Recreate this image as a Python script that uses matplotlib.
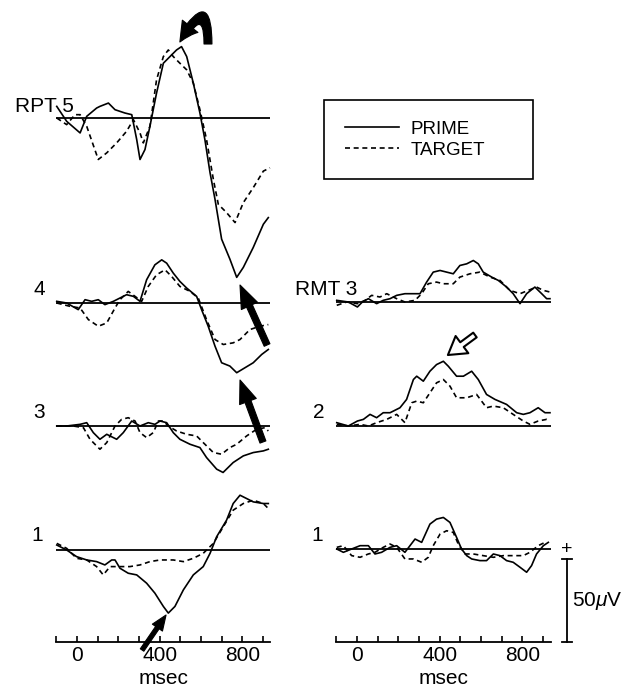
import numpy as np
import matplotlib.pyplot as plt
from matplotlib.lines import Line2D

plt.rcParams["font.family"] = ["Liberation Sans", "DejaVu Sans"]
plt.rcParams["mathtext.fontset"] = "custom"
plt.rcParams["mathtext.rm"] = "Liberation Sans"
plt.rcParams["mathtext.it"] = "Liberation Sans:italic"

# ---- ERP traces: time (msec) and amplitude (microvolts, + is up) ----
# RPT 5
t_rpt5_prime = [-98, -50, 15, 47, 95, 111, 152, 184, 232, 265, 289, 305, 329, 353, 385, 418,
                450, 482, 506, 531, 563, 595, 619, 644, 668, 700, 740, 773, 805, 853, 902, 926]
v_rpt5_prime = [7, -2, -9, 1, 6, 7, 9, 5, 3, 2, -13, -25, -19, -5, 15, 33,
                37, 41, 43, 37, 21, 3, -13, -33, -49, -73, -85, -96, -90, -78, -64, -60]
t_rpt5_target = [-98, -50, -10, 15, 47, 103, 144, 192, 240, 273, 305, 321, 353, 385, 418, 442,
                 466, 498, 531, 563, 595, 627, 660, 684, 724, 765, 805, 853, 902, 934]
v_rpt5_target = [0, -4, 2, 2, -5, -25, -21, -15, -8, -1, -9, -15, -5, 23, 37, 41,
                 37, 33, 29, 21, 5, -13, -37, -52, -57, -63, -51, -42, -32, -30]
# RPT 4
t_rpt4_prime = [-98, -50, 6, 39, 71, 103, 135, 176, 208, 240, 273, 305, 337, 377, 410, 434,
                466, 498, 531, 579, 603, 635, 668, 700, 740, 773, 813, 853, 894, 926]
v_rpt4_prime = [1, 0, -4, 2, 1, 2, -1, 1, 3, 5, 4, 1, 14, 23, 26, 24,
                18, 13, 9, 4, -4, -14, -26, -36, -38, -42, -39, -36, -31, -28]
t_rpt4_target = [-98, -34, 15, 55, 103, 144, 184, 208, 248, 281, 313, 345, 385, 426, 458, 498,
                 547, 587, 627, 668, 708, 756, 789, 837, 885, 926]
v_rpt4_target = [0, -2, -3, -10, -14, -12, -3, 2, 7, 4, 1, 10, 17, 20, 16, 10,
                 7, 3, -10, -22, -25, -24, -22, -16, -14, -13]
# RPT 3
t_rpt3_prime = [-98, -50, 15, 47, 79, 111, 144, 192, 224, 265, 305, 345, 377, 402, 434, 466,
                498, 547, 595, 627, 676, 707, 756, 805, 853, 902, 926]
v_rpt3_prime = [0, 0, 1, 2, -4, -8, -5, -8, -4, 3, 0, 2, 1, 3, 2, -4,
                -8, -11, -13, -19, -26, -28, -22, -18, -16, -15, -14]
t_rpt3_target = [-98, -18, 31, 63, 111, 144, 184, 216, 248, 281, 305, 337, 369, 394, 418, 442,
                 482, 531, 579, 611, 660, 700, 740, 773, 821, 869, 910, 926]
v_rpt3_target = [0, 0, -1, -8, -14, -10, 0, 4, 5, 3, -4, -7, -4, 3, 3, 0,
                 -3, -5, -6, -10, -16, -17, -13, -11, -6, -2, -1, -3]
# RPT 1
t_rpt1_prime = [-98, -50, -2, 47, 95, 135, 168, 184, 208, 248, 289, 337, 377, 418, 442, 474,
                515, 563, 611, 644, 676, 724, 756, 789, 821, 853, 902, 926]
v_rpt1_prime = [3, 0, -4, -6, -7, -9, -6, -6, -11, -14, -15, -20, -26, -34, -38, -34,
                -24, -15, -10, -2, 8, 18, 28, 33, 31, 29, 28, 28]
t_rpt1_target = [-98, -50, -2, 47, 95, 127, 160, 208, 256, 305, 353, 402, 466, 515, 563, 611,
                 660, 708, 756, 805, 853, 902, 926]
v_rpt1_target = [4, 1, -5, -6, -10, -15, -10, -10, -10, -9, -7, -6, -6, -7, -5, -2,
                 4, 14, 24, 28, 30, 28, 25]
# RMT 3
t_rmt3_prime = [-98, -42, 2, 26, 55, 95, 127, 160, 192, 232, 273, 305, 337, 369, 402, 434,
                466, 498, 531, 563, 587, 611, 652, 684, 724, 756, 789, 821, 861, 894, 918, 934]
v_rmt3_prime = [1, 0, -3, 0, 2, -1, 1, 2, 4, 5, 5, 5, 12, 18, 19, 18,
                17, 22, 23, 25, 23, 18, 15, 13, 9, 5, -1, 5, 9, 5, 2, 2]
t_rmt3_target = [-98, -50, 2, 39, 71, 111, 144, 192, 232, 281, 313, 345, 385, 418, 466, 498,
                 547, 595, 644, 692, 740, 789, 829, 869, 902, 934]
v_rmt3_target = [-2, 0, -1, 1, 4, 3, 5, 2, 0, 1, 5, 11, 12, 11, 11, 15,
                 17, 18, 15, 13, 7, 5, 7, 9, 7, 6]
# RMT 2
t_rmt2_prime = [-98, -42, 2, 31, 63, 95, 127, 160, 208, 240, 273, 289, 321, 353, 385, 418,
                442, 482, 515, 555, 587, 627, 668, 724, 773, 805, 837, 877, 910, 934]
v_rmt2_prime = [2, 0, 3, 4, 7, 5, 8, 8, 11, 16, 28, 30, 27, 33, 37, 39,
                36, 30, 30, 33, 28, 19, 16, 13, 8, 7, 8, 11, 8, 8]
t_rmt2_target = [-98, -42, 15, 55, 95, 144, 192, 232, 265, 289, 321, 353, 385, 418, 450, 482,
                 531, 579, 627, 660, 708, 756, 805, 837, 877, 918, 934]
v_rmt2_target = [1, 0, 1, 0, 2, 4, 7, 2, 14, 15, 14, 20, 26, 28, 24, 17,
                 17, 19, 11, 12, 11, 7, 3, 1, 3, 4, 3]
# RMT 1
t_rmt1_prime = [-98, -66, -26, 15, 55, 87, 119, 160, 192, 232, 281, 313, 353, 385, 418, 450,
                482, 506, 531, 555, 595, 627, 660, 692, 724, 756, 789, 821, 845, 869, 902, 926]
v_rmt1_prime = [0, -2, 0, 2, 2, -3, -2, 1, 2, -2, 6, 4, 15, 18, 19, 16,
                7, 0, -4, -6, -7, -7, -3, -4, -7, -8, -11, -14, -10, -3, 2, 4]
t_rmt1_target = [-98, -66, -26, 15, 55, 87, 127, 160, 192, 232, 273, 313, 345, 369, 402, 434,
                 466, 490, 523, 563, 611, 660, 708, 756, 805, 837, 877, 910]
v_rmt1_target = [1, 2, -4, -5, -3, -2, 1, 3, 1, -6, -6, -8, -5, 2, 9, 11,
                 10, 3, -3, -3, -4, -5, -4, -4, -4, -2, 2, 4]

tick_times = list(range(-100, 1000, 100))
tick_labels = ["" if t not in (0, 400, 800) else str(t) for t in tick_times]
scale_uv = 50

# ---- layout (pixels of a 633x688 canvas) ----
W, H = 633, 688
PX_MS = 0.2066   # px per msec
PX_UV = 1.66     # px per microvolt
AXIS_Y = 642     # pixel row of the time axis


def fx(x):
    return x / W


def fy(y):
    return 1 - y / H


fig = plt.figure(figsize=(W / 100, H / 100), dpi=100)


def make_axes(zero_px, tmax):
    left = zero_px - 100 * PX_MS
    width = (tmax + 100) * PX_MS
    ax = fig.add_axes([fx(left), fy(AXIS_Y), fx(width), AXIS_Y / H])
    ax.set_xlim(-100, tmax)
    ax.set_ylim(0, AXIS_Y / PX_UV)
    ax.patch.set_alpha(0)
    for s in ("left", "right", "top"):
        ax.spines[s].set_visible(False)
    ax.spines["bottom"].set_linewidth(1.3)
    ax.set_yticks([])
    ax.set_xticks(tick_times)
    ax.set_xticklabels(tick_labels, fontsize=15)
    ax.tick_params(axis="x", direction="in", length=4, width=1.2, pad=3)
    ax.set_xlabel("msec", fontsize=15, labelpad=3)
    return ax


def offset(y_px):
    return (AXIS_Y - y_px) / PX_UV


ax_l = make_axes(77, 935)
ax_r = make_axes(357, 940)

dash = (0, (3, 2.2))
lw = 1.2

left_traces = [
    (118, t_rpt5_prime, v_rpt5_prime, t_rpt5_target, v_rpt5_target),
    (303, t_rpt4_prime, v_rpt4_prime, t_rpt4_target, v_rpt4_target),
    (426, t_rpt3_prime, v_rpt3_prime, t_rpt3_target, v_rpt3_target),
    (550, t_rpt1_prime, v_rpt1_prime, t_rpt1_target, v_rpt1_target),
]
right_traces = [
    (302, t_rmt3_prime, v_rmt3_prime, t_rmt3_target, v_rmt3_target),
    (426, t_rmt2_prime, v_rmt2_prime, t_rmt2_target, v_rmt2_target),
    (549, t_rmt1_prime, v_rmt1_prime, t_rmt1_target, v_rmt1_target),
]

for ax, traces in ((ax_l, left_traces), (ax_r, right_traces)):
    for base, tp, vp, tt, vt in traces:
        off = offset(base)
        ax.axhline(off, color="black", lw=1.3)
        ax.plot(tp, np.array(vp) + off, color="black", lw=lw, clip_on=False)
        ax.plot(tt, np.array(vt) + off, color="black", lw=lw, ls=dash, clip_on=False)

# channel labels
lab = dict(fontsize=15, va="baseline", ha="left")
fig.text(fx(15), fy(112), "RPT 5", **lab)
fig.text(fx(33), fy(295), "4", **lab)
fig.text(fx(33), fy(418), "3", **lab)
fig.text(fx(31), fy(541), "1", **lab)
fig.text(fx(295), fy(295), "RMT 3", **lab)
fig.text(fx(313), fy(418), "2", **lab)
fig.text(fx(311), fy(541), "1", **lab)

# calibration bar
bar_t = (567 - 357) / PX_MS
cap = 5 / PX_MS
ax_r.plot([bar_t, bar_t], [0, scale_uv], color="black", lw=1.3, clip_on=False)
for yv in (0, scale_uv):
    ax_r.plot([bar_t - cap, bar_t + cap], [yv, yv], color="black", lw=1.3, clip_on=False)
ax_r.text(bar_t, offset(549), "+", fontsize=14, ha="center", va="center")
ax_r.text(bar_t + 5 / PX_MS, scale_uv / 2, r"50$\mu$V", fontsize=15, ha="left", va="center")

# arrows
def arrow(ax, tip, tail, style, scale, fc="black", ec="black", conn="arc3", alw=0.8):
    ax.annotate("", xy=tip, xytext=tail, annotation_clip=False,
                arrowprops=dict(arrowstyle=style, connectionstyle=conn, fc=fc, ec=ec,
                                lw=alw, shrinkA=0, shrinkB=0, mutation_scale=scale))


big = "simple,head_length=1.1,head_width=0.85,tail_width=0.3"
arrow(ax_l, (498, offset(42)), (634, offset(44)),
      "simple,head_length=0.9,head_width=0.95,tail_width=0.38", 15,
      conn="angle3,angleA=90,angleB=60")
arrow(ax_l, (789, offset(285)), (920, offset(345)), big, 15)
arrow(ax_l, (789, offset(380)), (900, offset(442)), big, 15)
arrow(ax_l, (431, offset(615)), (315, offset(650)),
      "simple,head_length=1.0,head_width=0.8,tail_width=0.28", 11)
arrow(ax_r, (440, offset(355)), (571, offset(335)),
      "simple,head_length=0.9,head_width=1.1,tail_width=0.3", 14,
      fc="white", ec="black", alw=1.5)

# legend
handles = [Line2D([], [], color="black", lw=lw),
           Line2D([], [], color="black", lw=lw, ls=dash)]
leg = fig.legend(handles, ["PRIME", "TARGET"], loc="upper left",
                 bbox_to_anchor=(fx(324), fy(187), fx(533 - 324), (187 - 100) / H),
                 mode="expand", borderaxespad=0, borderpad=1.1, labelspacing=0.2,
                 handlelength=2.9, handletextpad=0.6, fontsize=13.5,
                 fancybox=False, framealpha=1, edgecolor="black")
leg.get_frame().set_linewidth(1.2)

fig.savefig("out.png", dpi=100)
